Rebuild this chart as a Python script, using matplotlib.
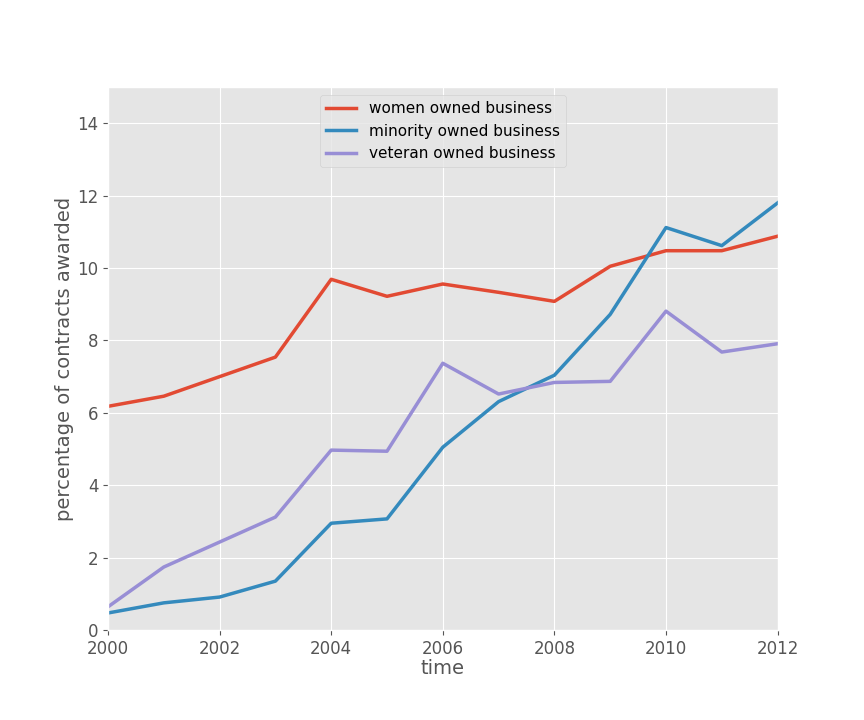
import numpy as np
import matplotlib
matplotlib.use("Agg")
import matplotlib.pyplot as plt

# Contract share by owner type, per year.
years = list(range(2000, 2013))
women = [6.18, 6.46, 7.00, 7.54, 9.69, 9.22, 9.56, 9.33, 9.08, 10.05, 10.48, 10.48, 10.88]
minority = [0.47, 0.75, 0.91, 1.35, 2.95, 3.07, 5.05, 6.31, 7.04, 8.72, 11.12, 10.62, 11.80]
veteran = [0.64, 1.74, 2.43, 3.12, 4.97, 4.94, 7.37, 6.52, 6.84, 6.87, 8.81, 7.68, 7.91]

plt.style.use("ggplot")

fig, ax = plt.subplots(figsize=(8.64, 7.2), dpi=100)
fig.subplots_adjust(left=0.125, right=0.9, bottom=0.125, top=0.879)

ax.plot(years, women, lw=2.5, label="women owned business")
ax.plot(years, minority, lw=2.5, label="minority owned business")
ax.plot(years, veteran, lw=2.5, label="veteran owned business")

ax.set_xlim(2000, 2012)
ax.set_ylim(0, 15)
ax.set_xticks(range(2000, 2013, 2))
ax.set_yticks(range(0, 15, 2))
ax.tick_params(labelsize=12)
ax.set_xlabel("time", fontsize=14, labelpad=1)
ax.set_ylabel("percentage of contracts awarded", fontsize=14, labelpad=2)
ax.legend(loc="upper center", fontsize=11)

fig.savefig("out.png", dpi=100)
